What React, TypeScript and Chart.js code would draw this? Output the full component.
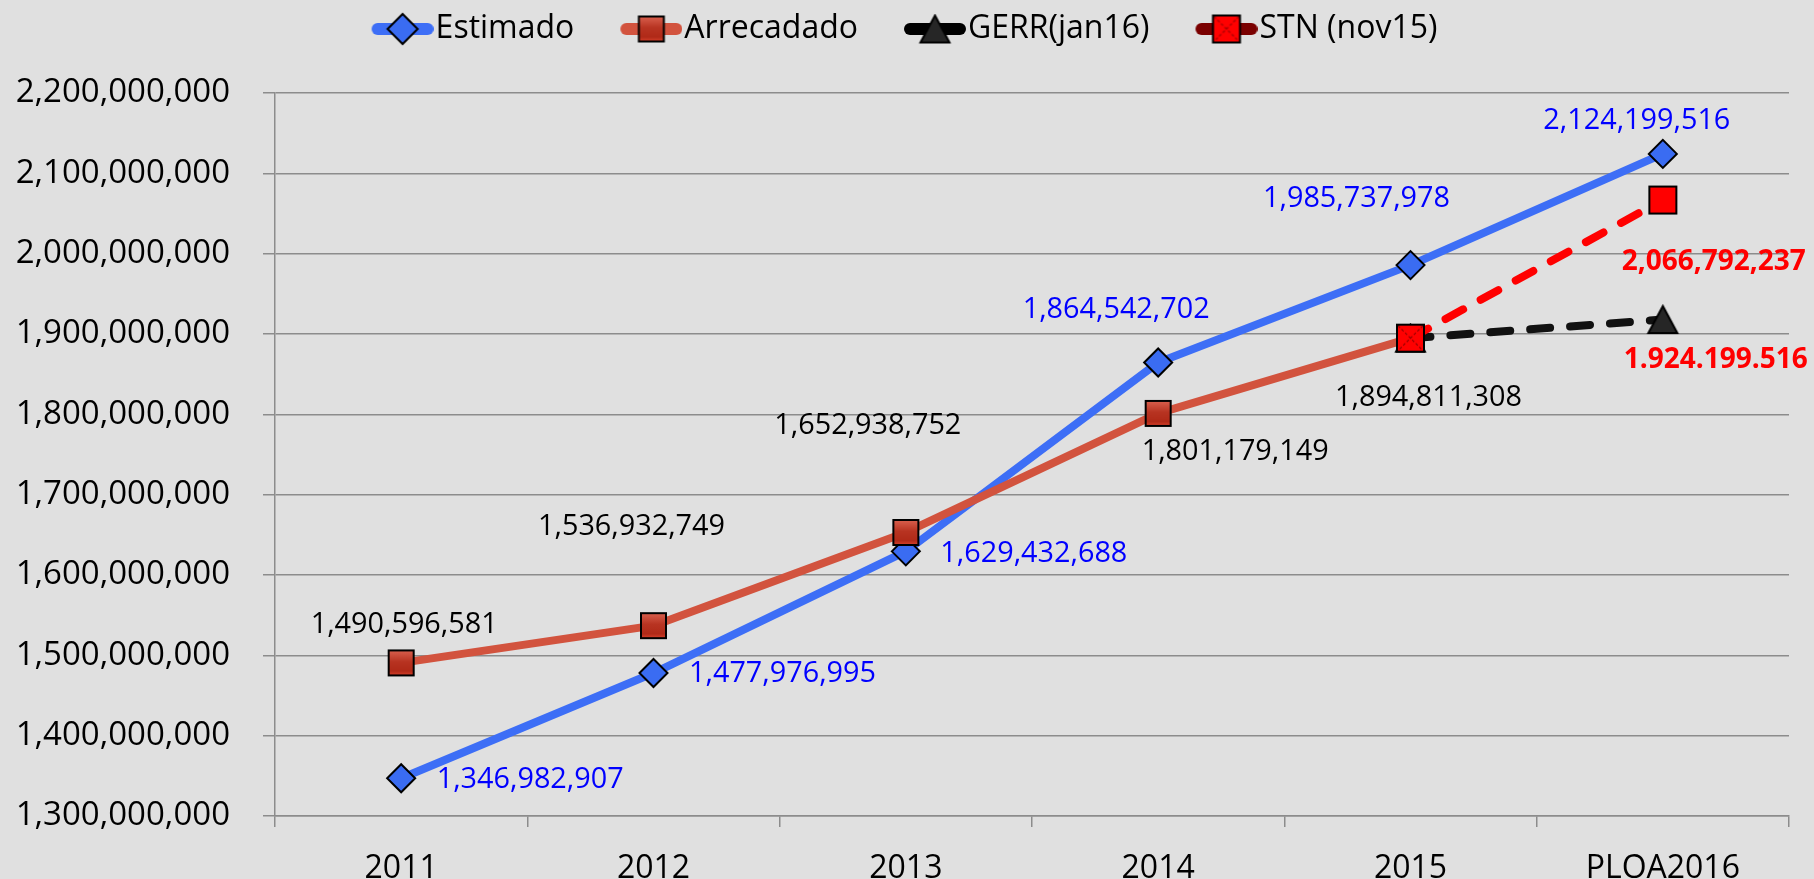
import React, { useEffect, useRef } from "react";
import { Chart, registerables } from "chart.js";

Chart.register(...registerables);

// ---------- data ----------
const categories = ["2011", "2012", "2013", "2014", "2015", "PLOA2016"];
const estimado = [1346982907, 1477976995, 1629432688, 1864542702, 1985737978, 2124199516];
const arrecadado = [1490596581, 1536932749, 1652938752, 1801179149, 1894811308, null];
const gerr = [null, null, null, null, 1894811308, 1918000000];
const stn = [null, null, null, null, 1894811308, 2066792237];

const seriesNames = ["Estimado", "Arrecadado", "GERR(jan16)", "STN (nov15)"];

const yTickMin = 1300000000;
const yTickMax = 2200000000;
const yTickStep = 100000000;

const fmt = new Intl.NumberFormat("en-US");
const estimadoLabels = estimado.map((v) => fmt.format(v));
const arrecadadoLabels = arrecadado.map((v) => (v == null ? null : fmt.format(v)));
const gerrLabels = [null, null, null, null, null, "1.924.199.516"];
const stnLabels = [null, null, null, null, null, "2,066,792,237"];

// label offsets (px, relative to the point)
const estimadoLabelOffsets = [[129, 2], [129, 1], [128, 2], [-42, -53], [-54, -66], [-26, -33]];
const arrecadadoLabelOffsets = [[3, -38], [-22, -99], [-38, -107], [77, 38], [18, 60], null];
const gerrLabelOffsets = [null, null, null, null, null, [53, 40]];
const stnLabelOffsets = [null, null, null, null, null, [51, 62]];

// ---------- styles ----------
const FONT = "'Open Sans', 'Noto Sans', sans-serif";
const BG = "#e0e0e0";
const GRID = "#8c8c8c";
const BLUE = "#3d6ef6";
const BLUE_FILL = "#3a6cf2";
const ORANGE = "#d2533e";
const RED = "#ff0000";

function makeCanvas(w: number, h: number) {
  const c = document.createElement("canvas");
  c.width = w;
  c.height = h;
  return c;
}

function makeArrecadadoMarker() {
  const c = makeCanvas(31, 31);
  const ctx = c.getContext("2d")!;
  const g = ctx.createLinearGradient(0, 2, 0, 29);
  g.addColorStop(0, "#dc6452");
  g.addColorStop(0.45, "#b83422");
  g.addColorStop(0.8, "#b02a18");
  g.addColorStop(1, "#e04630");
  ctx.fillStyle = g;
  ctx.fillRect(2, 2, 27, 27);
  ctx.strokeStyle = "#000";
  ctx.lineWidth = 2;
  ctx.strokeRect(3, 3, 25, 25);
  return c;
}

function makeRedSquare(cross: boolean) {
  const c = makeCanvas(33, 33);
  const ctx = c.getContext("2d")!;
  ctx.fillStyle = RED;
  ctx.fillRect(2, 2, 29, 29);
  if (cross) {
    ctx.strokeStyle = "#9a0000";
    ctx.lineWidth = 1.2;
    ctx.setLineDash([3, 2]);
    ctx.beginPath();
    ctx.moveTo(4, 4);
    ctx.lineTo(29, 29);
    ctx.moveTo(29, 4);
    ctx.lineTo(4, 29);
    ctx.stroke();
    ctx.setLineDash([]);
  }
  ctx.strokeStyle = "#000";
  ctx.lineWidth = 2;
  ctx.strokeRect(3, 3, 27, 27);
  return c;
}

// triangle whose bounding box is centred on the canvas centre
function makeTriangleMarker() {
  const c = makeCanvas(35, 31);
  const ctx = c.getContext("2d")!;
  ctx.beginPath();
  ctx.moveTo(17.5, 2);
  ctx.lineTo(32, 29);
  ctx.lineTo(3, 29);
  ctx.closePath();
  ctx.fillStyle = "#262626";
  ctx.fill();
  ctx.strokeStyle = "#000";
  ctx.lineWidth = 2;
  ctx.lineJoin = "miter";
  ctx.stroke();
  return c;
}

function drawDiamond(ctx: CanvasRenderingContext2D, x: number, y: number, r: number) {
  ctx.beginPath();
  ctx.moveTo(x - r, y);
  ctx.lineTo(x, y - r);
  ctx.lineTo(x + r, y);
  ctx.lineTo(x, y + r);
  ctx.closePath();
  ctx.fillStyle = BLUE_FILL;
  ctx.fill();
  ctx.strokeStyle = "#000";
  ctx.lineWidth = 2;
  ctx.stroke();
}

// legend icon: image 96 wide, visible line+marker centred at x=65
function makeLegendIcon(lineColor: string, marker: (ctx: CanvasRenderingContext2D, x: number, y: number) => void) {
  const c = makeCanvas(96, 40);
  const ctx = c.getContext("2d")!;
  ctx.strokeStyle = lineColor;
  ctx.lineWidth = 12;
  ctx.lineCap = "round";
  ctx.beginPath();
  ctx.moveTo(40, 20);
  ctx.lineTo(90, 20);
  ctx.stroke();
  marker(ctx, 65, 20);
  return c;
}

export default function App() {
  const ref = useRef<HTMLCanvasElement>(null);

  useEffect(() => {
    const canvas = ref.current!;
    const arrMarker = makeArrecadadoMarker();
    const stnCross = makeRedSquare(true);
    const stnSquare = makeRedSquare(false);
    const triMarker = makeTriangleMarker();

    const legendIcons = [
      makeLegendIcon(BLUE, (ctx, x, y) => drawDiamond(ctx, x, y, 15)),
      makeLegendIcon(ORANGE, (ctx, x, y) => ctx.drawImage(arrMarker, x - 15.5, y - 15.5)),
      makeLegendIcon("#000", (ctx, x, y) => ctx.drawImage(triMarker, x - 17.5, y - 15.5)),
      makeLegendIcon("#7a0000", (ctx, x, y) => ctx.drawImage(stnCross, x - 16.5, y - 16.5)),
    ];

    const labelSpecs = [
      { dataset: 0, texts: estimadoLabels, offsets: estimadoLabelOffsets, color: "#0000ff", bold: false, size: 28.8 },
      { dataset: 1, texts: arrecadadoLabels, offsets: arrecadadoLabelOffsets, color: "#000000", bold: false, size: 28.8 },
      { dataset: 2, texts: gerrLabels, offsets: gerrLabelOffsets, color: "#ff0000", bold: true, size: 28 },
      { dataset: 3, texts: stnLabels, offsets: stnLabelOffsets, color: "#ff0000", bold: true, size: 28 },
    ];

    const bgPlugin = {
      id: "bg",
      beforeDraw(chart: any) {
        const ctx = chart.ctx;
        ctx.save();
        ctx.fillStyle = BG;
        ctx.fillRect(0, 0, chart.width, chart.height);
        ctx.restore();
      },
    };

    const legendHeightPlugin = {
      id: "legendHeight",
      beforeInit(chart: any) {
        const legend = chart.legend;
        if (!legend) return;
        const orig = legend.fit;
        legend.fit = function () {
          orig.call(this);
          this.height = 106;
        };
      },
    };

    const labelPlugin = {
      id: "valueLabels",
      afterDatasetsDraw(chart: any) {
        const ctx = chart.ctx;
        labelSpecs.forEach((spec) => {
          const meta = chart.getDatasetMeta(spec.dataset);
          spec.texts.forEach((t: any, i: number) => {
            const off = spec.offsets[i];
            const el = meta.data[i];
            if (!t || !off || !el) return;
            ctx.save();
            ctx.font = `${spec.bold ? "bold " : ""}${spec.size}px ${FONT}`;
            ctx.fillStyle = spec.color;
            ctx.textAlign = "center";
            ctx.textBaseline = "middle";
            ctx.fillText(t, el.x + off[0], el.y + off[1]);
            ctx.restore();
          });
        });
      },
    };

    Chart.defaults.font.family = FONT;

    const chart = new Chart(canvas, {
      type: "line",
      data: {
        labels: categories,
        datasets: [
          {
            label: seriesNames[0],
            data: estimado,
            borderColor: BLUE,
            borderWidth: 8,
            borderJoinStyle: "round",
            pointStyle: "rectRot",
            pointRadius: 14,
            pointBackgroundColor: BLUE_FILL,
            pointBorderColor: "#000",
            pointBorderWidth: 2,
            tension: 0,
            order: 3,
          },
          {
            label: seriesNames[1],
            data: arrecadado,
            borderColor: ORANGE,
            borderWidth: 8,
            borderJoinStyle: "round",
            pointStyle: arrMarker,
            pointRadius: 14,
            tension: 0,
            order: 2,
          },
          {
            label: seriesNames[2],
            data: gerr,
            borderColor: "#111111",
            borderWidth: 8,
            borderDash: [20, 20],
            borderCapStyle: "round",
            pointStyle: triMarker,
            pointRadius: 17,
            tension: 0,
            order: 1,
          },
          {
            label: seriesNames[3],
            data: stn,
            borderColor: RED,
            borderWidth: 8,
            borderDash: [20, 20],
            borderCapStyle: "round",
            pointStyle: [stnSquare, stnSquare, stnSquare, stnSquare, stnCross, stnSquare],
            pointRadius: 15,
            tension: 0,
            order: 0,
          },
        ] as any,
      },
      options: {
        responsive: false,
        devicePixelRatio: 1,
        animation: false,
        events: [],
        layout: { padding: { left: 0, right: 25, top: -13, bottom: 0 } },
        plugins: {
          tooltip: { enabled: false },
          legend: {
            display: true,
            position: "top",
            labels: {
              usePointStyle: true,
              pointStyleWidth: 68,
              padding: 26,
              color: "#000",
              font: { size: 32, family: FONT },
              sort: (a: any, b: any) => a.datasetIndex - b.datasetIndex,
              generateLabels: (ch: any) => {
                const items = (Chart.defaults.plugins.legend.labels as any).generateLabels(ch);
                items.forEach((it: any) => {
                  it.pointStyle = legendIcons[it.datasetIndex];
                  it.fontColor = "#000";
                });
                return items;
              },
            },
          },
        },
        scales: {
          x: {
            type: "category",
            offset: true,
            grid: {
              offset: true,
              drawOnChartArea: false,
              drawTicks: true,
              tickLength: 11,
              color: GRID,
              lineWidth: 1.5,
            },
            border: { color: GRID, width: 1.5 },
            ticks: {
              color: "#000",
              font: { size: 32, family: FONT },
              padding: 23,
              autoSkip: false,
              maxRotation: 0,
            },
            afterFit: (scale: any) => {
              scale.height = 63;
            },
          },
          y: {
            type: "linear",
            min: yTickMin,
            max: yTickMax,
            grid: { color: GRID, lineWidth: 1.5, tickLength: 12 },
            border: { color: GRID, width: 1.5 },
            ticks: {
              stepSize: yTickStep,
              color: "#000",
              font: { size: 33, family: FONT },
              padding: 33,
              callback: (v: any) => fmt.format(Number(v)),
            },
            afterFit: (scale: any) => {
              scale.width = 275;
            },
          },
        },
      } as any,
      plugins: [bgPlugin, legendHeightPlugin, labelPlugin],
    });

    return () => chart.destroy();
  }, []);

  return (
    <div style={{ position: "fixed", left: 0, top: 0, width: 1814, height: 879, background: BG }}>
      <canvas ref={ref} width={1814} height={879} style={{ display: "block", width: 1814, height: 879 }} />
    </div>
  );
}
